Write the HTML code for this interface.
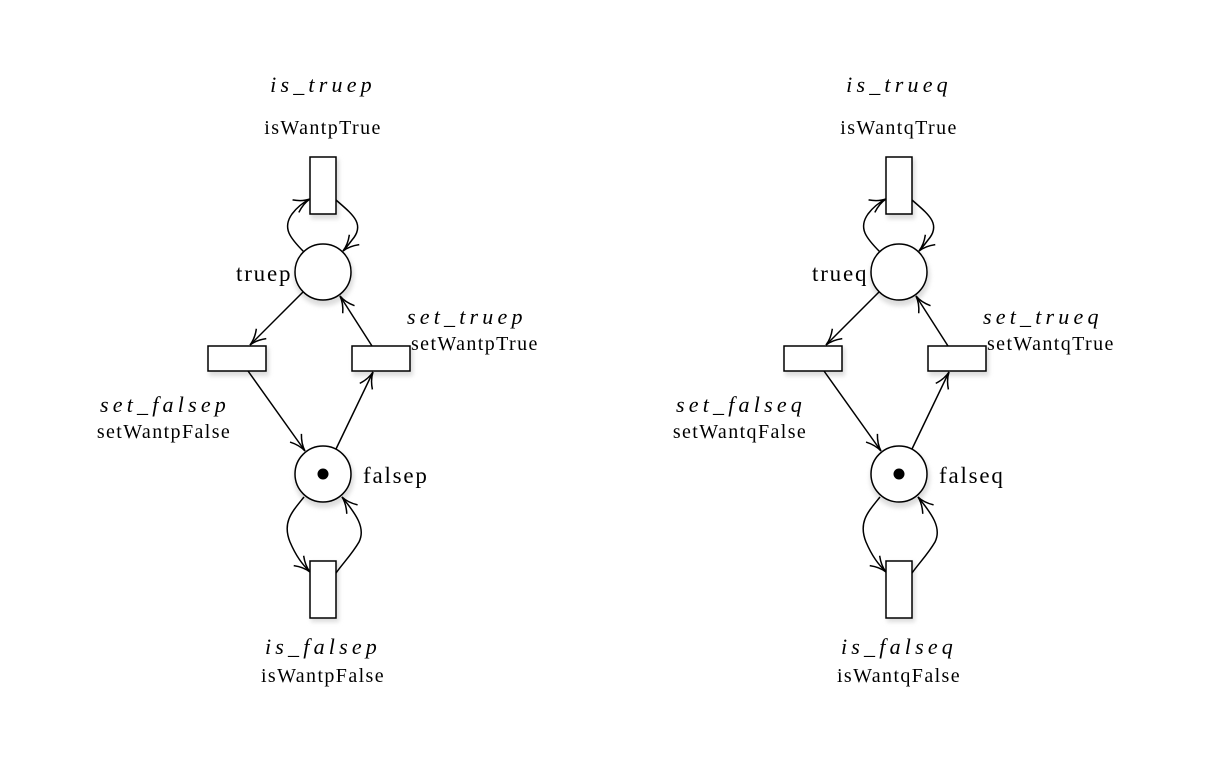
<!DOCTYPE html>
<html><head><meta charset="utf-8"><style>
html,body{margin:0;padding:0;background:#fff;}
svg{display:block;}
text{font-family:"Liberation Serif",serif;fill:#000;}
.m{font-style:italic;font-size:22px;letter-spacing:4.2px;}
.n{font-size:20px;letter-spacing:1.4px;}
.p{font-size:23px;letter-spacing:1.8px;}
</style></head><body>
<svg width="1221" height="760" viewBox="0 0 1221 760" xmlns="http://www.w3.org/2000/svg">
<defs>
<filter id="sh" x="-50%" y="-50%" width="200%" height="200%"><feGaussianBlur stdDeviation="2"/></filter>
<marker id="a" viewBox="0 0 20 20" refX="19" refY="10" markerWidth="20" markerHeight="20" markerUnits="userSpaceOnUse" orient="auto">
<path d="M3,3 Q11,9 19,10 Q11,11 3,17" fill="none" stroke="#000" stroke-width="1.5"/></marker>
<g id="net">
<g fill="#ddd" filter="url(#sh)">
<rect x="311" y="159" width="28" height="60"/><rect x="209" y="348" width="60" height="28"/>
<rect x="353" y="348" width="60" height="28"/><rect x="311" y="562" width="28" height="60"/>
<circle cx="324" cy="276" r="30"/><circle cx="324" cy="478" r="30"/>
</g>
<g fill="#fff" stroke="#000" stroke-width="1.5">
<rect x="310" y="157" width="26" height="57"/><rect x="208" y="346" width="58" height="25"/>
<rect x="352" y="346" width="58" height="25"/><rect x="310" y="561" width="26" height="57"/>
<circle cx="323" cy="272" r="28"/><circle cx="323" cy="474" r="28"/>
</g>
<circle cx="323" cy="474" r="5.5" fill="#000"/>
<g fill="none" stroke="#000" stroke-width="1.5" marker-end="url(#a)">
<path d="M304,252 C290,238 282,228 292,214 C298,206 304,202 310,199"/>
<path d="M336,200 C352,214 366,224 352,240 C349,244 346,248 343,251"/>
<path d="M303,292 L250,345"/>
<path d="M248,371 L305,451"/>
<path d="M336,449 L373,372"/>
<path d="M372,346 L340,296"/>
<path d="M304,497 C292,512 282,522 290,542 C296,556 302,564 310,572"/>
<path d="M336,573 C344,562 352,554 359,542 C366,528 356,514 342,497"/>
</g>
</g>
</defs>
<use href="#net"/>
<use href="#net" transform="translate(576,0)"/>
<text class="m" x="323" y="92" text-anchor="middle">is_truep</text>
<text class="n" x="323" y="134" text-anchor="middle">isWantpTrue</text>
<text class="p" x="236" y="281">truep</text>
<text class="m" x="407" y="324">set_truep</text>
<text class="n" x="411" y="350">setWantpTrue</text>
<text class="m" x="165" y="412" text-anchor="middle">set_falsep</text>
<text class="n" x="164" y="438" text-anchor="middle">setWantpFalse</text>
<text class="p" x="363" y="483">falsep</text>
<text class="m" x="323" y="654" text-anchor="middle">is_falsep</text>
<text class="n" x="323" y="682" text-anchor="middle">isWantpFalse</text>
<text class="m" x="899" y="92" text-anchor="middle">is_trueq</text>
<text class="n" x="899" y="134" text-anchor="middle">isWantqTrue</text>
<text class="p" x="812" y="281">trueq</text>
<text class="m" x="983" y="324">set_trueq</text>
<text class="n" x="987" y="350">setWantqTrue</text>
<text class="m" x="741" y="412" text-anchor="middle">set_falseq</text>
<text class="n" x="740" y="438" text-anchor="middle">setWantqFalse</text>
<text class="p" x="939" y="483">falseq</text>
<text class="m" x="899" y="654" text-anchor="middle">is_falseq</text>
<text class="n" x="899" y="682" text-anchor="middle">isWantqFalse</text>
</svg>
</body></html>
